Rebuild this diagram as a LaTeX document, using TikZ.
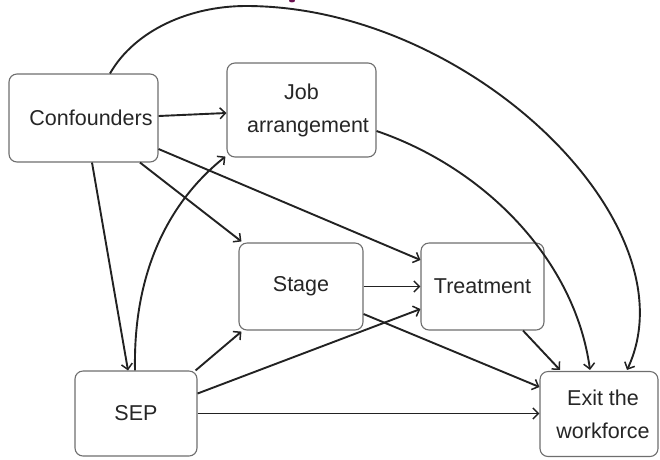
\documentclass[tikz,border=0pt]{standalone}
\usepackage{fontspec}
\setmainfont{Liberation Sans}
\usetikzlibrary{arrows.meta}
\definecolor{edgec}{HTML}{222222}
\definecolor{boxc}{HTML}{6E6E6E}
\definecolor{txtc}{HTML}{262626}
\definecolor{titlec}{HTML}{6A1050}
\begin{document}
\begin{tikzpicture}[x=1pt,y=-1pt,
  box/.style={draw=boxc,line width=1.1pt,rounded corners=8pt,fill=white,
    text=txtc,align=center,inner sep=0pt,
    font=\fontsize{21.5}{33}\selectfont},
  arr/.style={draw=edgec,line width=1.9pt,
    -{Straight Barb[length=5.5pt,width=11pt,line width=1.5pt]}}]
\useasboundingbox (0,0) rectangle (660,459);
\fill[titlec] (292,0.8) ellipse (3pt and 1.6pt);
\node[box,minimum width=149pt,minimum height=88pt] (conf) at (83.5,118) {\hspace*{15pt}Confounders};
\node[box,minimum width=149pt,minimum height=94pt] (job) at (301.5,110) {Job\\\hspace*{13pt}arrangement};
\node[box,minimum width=124pt,minimum height=87pt] (stage) at (301,286.5) {Stage};
\node[box,minimum width=123pt,minimum height=87pt] (treat) at (482.5,286.5) {Treatment};
\node[box,minimum width=122pt,minimum height=85pt] (sep) at (136,413.5) {SEP};
\node[box,minimum width=118pt,minimum height=85pt] (exit) at (599,414) {\hspace*{8pt}Exit the\\\hspace*{8pt}workforce};
% edges
\draw[arr] ([yshift=2pt]conf.east) -- ([yshift=-3pt]job.west);
\draw[arr] ([xshift=56.5pt]conf.south) -- ([xshift=3pt,yshift=1pt]stage.north west);
\draw[arr] ([yshift=-31pt]conf.east) -- ([yshift=26.5pt]treat.west);
\draw[arr] ([xshift=8.5pt]conf.south) -- ([xshift=-8pt]sep.north);
\draw[arr] ([xshift=-1pt]sep.north) .. controls +(-2,-101) and +(-55,44) .. ([xshift=-1pt,yshift=1pt]job.south west);
\draw[arr] ([xshift=-2pt]sep.north east) -- ([xshift=3pt,yshift=-1pt]stage.south west);
\draw[arr] ([yshift=20pt]sep.east) -- ([yshift=-22.5pt]treat.west);
\draw[arr] (sep.east) -- (sep.east -| exit.west);
\draw[arr] (stage.east) -- (treat.west);
\draw[arr] ([yshift=-27.5pt]stage.east) -- ([yshift=27pt]exit.west);
\draw[arr] ([xshift=40.5pt]treat.south) -- ([xshift=-39pt,yshift=1pt]exit.north);
\draw[arr] ([yshift=-21pt]job.east) .. controls (485,168) and (575,260) .. ([xshift=-9pt,yshift=1pt]exit.north);
\coordinate (peak) at (246,6);
\draw[arr] ([xshift=26.5pt]conf.north) .. controls (135,30) and (190,6) .. (peak)
  .. controls (470,6) and (695,225) .. ([xshift=28pt,yshift=1pt]exit.north);
\end{tikzpicture}
\end{document}
